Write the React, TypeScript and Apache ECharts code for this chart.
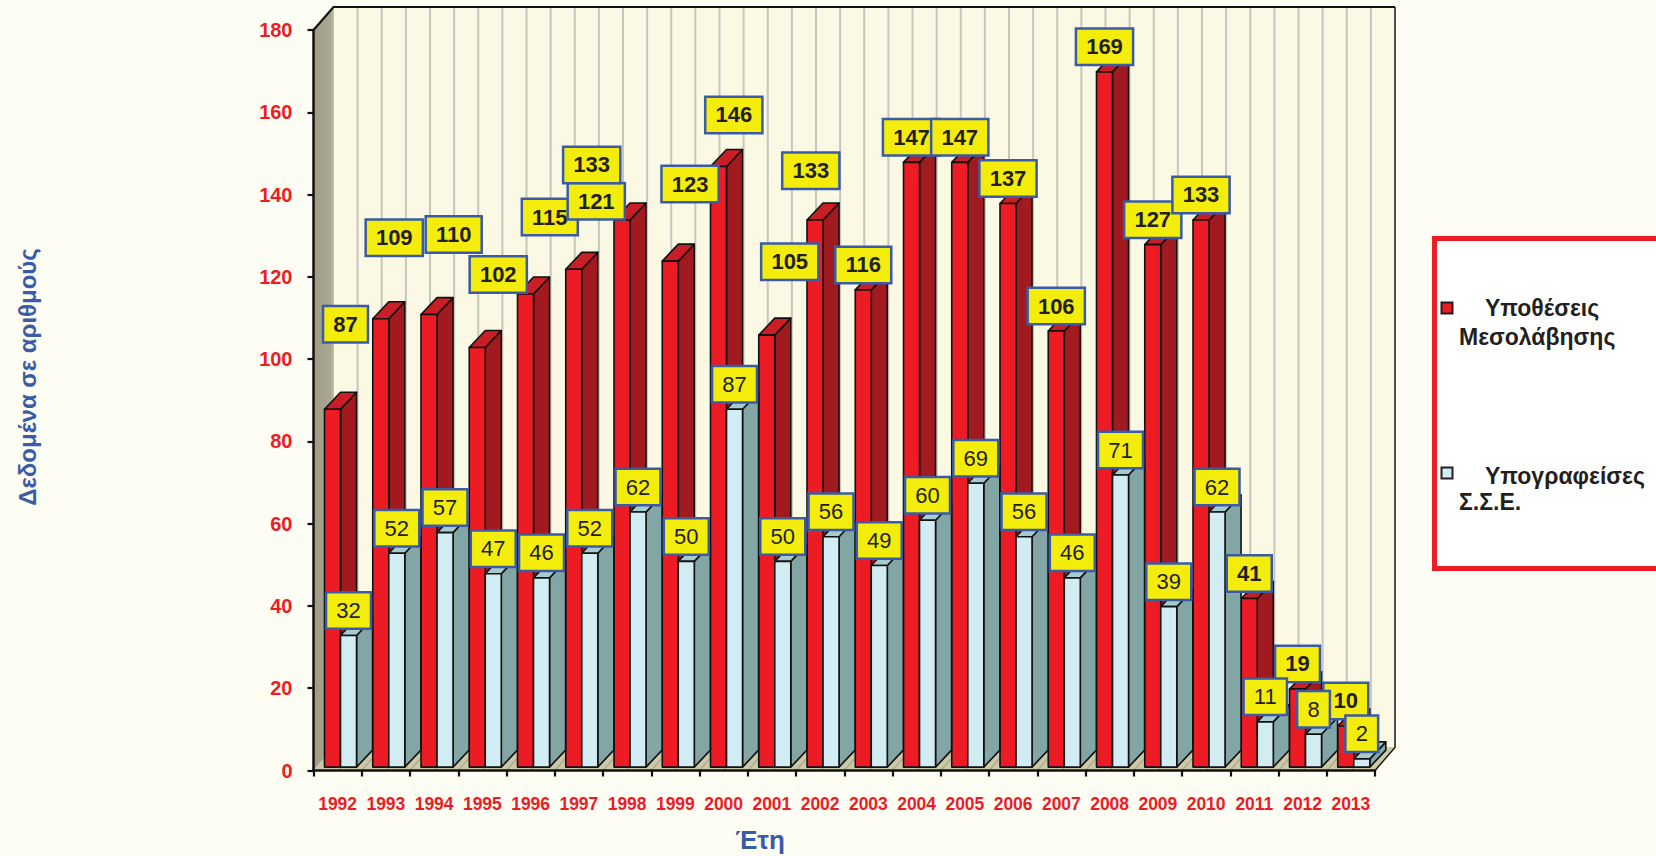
import React, { useEffect, useRef } from "react";
import * as echarts from "echarts";

const years = [
  "1992", "1993", "1994", "1995", "1996", "1997", "1998", "1999", "2000", "2001", "2002",
  "2003", "2004", "2005", "2006", "2007", "2008", "2009", "2010", "2011", "2012", "2013",
];
const mediationCases = [87, 109, 110, 102, 115, 121, 133, 123, 146, 105, 133, 116, 147, 147, 137, 106, 169, 127, 133, 41, 19, 10];
const signedAgreements = [32, 52, 57, 47, 46, 52, 62, 50, 87, 50, 56, 49, 60, 69, 56, 46, 71, 39, 62, 11, 8, 2];
const seriesNames = ["Υποθέσεις Μεσολάβησης", "Υπογραφείσες Σ.Σ.Ε."];
const yAxisTitle = "Δεδομένα σε αριθμούς";
const xAxisTitle = "Έτη";
const yMin = 0;
const yMax = 180;
const yStep = 20;

// manual nudges (px) of the red value boxes, as placed in the original
const redLabelShift: [number, number][] = [
  [13, -60], [13.5, -56], [24.7, -55], [21, -48], [24.3, -52], [22.5, -43], [-30.3, -30],
  [19.8, -52], [15.3, -26.5], [23, -48.5], [-4.2, -24.3], [0, 0], [0, 0], [0, 0], [0, 0],
  [0, 0], [0, 0], [0, 0], [0, 0], [0, 0], [0, 0], [0, 0],
];

const FONT = '"Liberation Sans", Arial, sans-serif';
const RED = { front: "#ed1c24", side: "#a11a20", top: "#c91e25" };
const BLUE = { front: "#d2ecf3", side: "#82a5a6", top: "#a5cbd1" };
const BAR_W = 0.332; // fraction of category
const BAR_DY = -0.352; // depth rise as fraction of category
const BAR_SHIFT_Y = -3.4;
const WALL_DX = 20;
const WALL_DY = -23;

function barItem(offset: number, colors: { front: string; side: string; top: string }) {
  return (params: any, api: any) => {
    const i = api.value(0);
    const v = api.value(1);
    const c = api.coord([i, v]);
    const b = api.coord([i, 0]);
    const bw = api.size([1, 0])[0];
    const start = c[0] - bw / 2;
    const x0 = start + bw * offset;
    const x1 = x0 + bw * BAR_W;
    const dx = bw * BAR_W;
    const dy = bw * BAR_DY;
    const yb = b[1] + BAR_SHIFT_Y;
    const yt = c[1] + BAR_SHIFT_Y;
    const stroke = { stroke: "#111", lineWidth: 1.6, lineJoin: "round" };
    return {
      type: "group",
      children: [
        {
          type: "polygon",
          shape: { points: [[x1, yb], [x1 + dx, yb + dy], [x1 + dx, yt + dy], [x1, yt]] },
          style: { fill: colors.side, ...stroke },
        },
        {
          type: "polygon",
          shape: { points: [[x0, yt], [x1, yt], [x1 + dx, yt + dy], [x0 + dx, yt + dy]] },
          style: { fill: colors.top, ...stroke },
        },
        {
          type: "polygon",
          shape: { points: [[x0, yb], [x1, yb], [x1, yt], [x0, yt]] },
          style: { fill: colors.front, ...stroke },
        },
      ],
    };
  };
}

function labelItem(offset: number, bold: boolean, shifts: [number, number][] | null) {
  return (params: any, api: any) => {
    const i = api.value(0);
    const v = api.value(1);
    const c = api.coord([i, v]);
    const bw = api.size([1, 0])[0];
    const start = c[0] - bw / 2;
    const cx = start + bw * offset + (bw * BAR_W) / 2;
    const yt = c[1] + BAR_SHIFT_Y;
    const s = shifts ? shifts[params.dataIndex] : [0, 0];
    return {
      type: "text",
      x: cx + s[0],
      y: yt - 25 + s[1],
      style: {
        text: String(v),
        align: "center",
        verticalAlign: "middle",
        font: `${bold ? "bold " : ""}22px ${FONT}`,
        lineHeight: 24,
        fill: "#231f20",
        backgroundColor: "#f4ec0b",
        borderColor: "#3a5ba7",
        borderWidth: 2.5,
        padding: [5, 9],
      },
    };
  };
}

function frameItem(params: any, api: any) {
  const p0 = api.coord([0, yMin]);
  const pTop = api.coord([0, yMax]);
  const bw = api.size([1, 0])[0];
  const n = years.length;
  const xL = p0[0] - bw / 2;
  const xR = xL + n * bw;
  const yB = p0[1];
  const yT = pTop[1];
  const children: any[] = [];
  children.push({
    type: "rect",
    shape: { x: xL + WALL_DX, y: yT + WALL_DY, width: xR - xL, height: yB - yT },
    style: { fill: "#fbf9e3", stroke: "#c9c7b8", lineWidth: 1 },
  });
  for (let k = 1; k < n * 2; k++) {
    const gx = xL + WALL_DX + (k * bw) / 2;
    children.push({
      type: "line",
      shape: { x1: gx, y1: yT + WALL_DY, x2: gx, y2: yB + WALL_DY },
      style: { stroke: "#c6c6c0", lineWidth: 2 },
    });
  }
  children.push({
    type: "polygon",
    shape: { points: [[xL, yB], [xL, yT], [xL + WALL_DX, yT + WALL_DY], [xL + WALL_DX, yB + WALL_DY]] },
    style: {
      fill: new echarts.graphic.LinearGradient(0, 0, 1, 0, [
        { offset: 0, color: "#9f9d87" },
        { offset: 0.85, color: "#a9a791" },
        { offset: 1, color: "#bdbba6" },
      ]),
    },
  });
  children.push({
    type: "polygon",
    shape: { points: [[xL, yB], [xR, yB], [xR + WALL_DX, yB + WALL_DY], [xL + WALL_DX, yB + WALL_DY]] },
    style: { fill: "#cdc9a6" },
  });
  for (let k = 1; k < n * 2; k++) {
    const fx = xL + (k * bw) / 2;
    children.push({
      type: "line",
      shape: { x1: fx, y1: yB, x2: fx + WALL_DX, y2: yB + WALL_DY },
      style: { stroke: "#a9a68e", lineWidth: 1.2 },
    });
  }
  children.push({
    type: "polyline",
    shape: { points: [[xL, yT], [xL + WALL_DX, yT + WALL_DY], [xR + WALL_DX, yT + WALL_DY]] },
    style: { stroke: "#111", lineWidth: 2.2, fill: "none" },
  });
  children.push({
    type: "polyline",
    shape: { points: [[xR, yB], [xR + WALL_DX, yB + WALL_DY], [xR + WALL_DX, yT + WALL_DY]] },
    style: { stroke: "#111", lineWidth: 1.4, fill: "none" },
  });
  return { type: "group", children };
}

export default function App() {
  const ref = useRef<HTMLDivElement>(null);
  useEffect(() => {
    document.body.style.margin = "0";
    const chart = echarts.init(ref.current!, undefined, { renderer: "svg" });
    const redData = mediationCases.map((v, i) => [i, v]);
    const blueData = signedAgreements.map((v, i) => [i, v]);
    chart.setOption({
      animation: false,
      backgroundColor: "#fdfdf4",
      textStyle: { fontFamily: FONT },
      grid: { left: 313.5, right: 281, top: 30, bottom: 85.5 },
      xAxis: {
        type: "category",
        data: years,
        z: 10,
        axisLine: { lineStyle: { color: "#111", width: 2.5 } },
        axisTick: { show: true, interval: 0, length: 6, lineStyle: { color: "#111", width: 2.2 } },
        axisLabel: {
          interval: 0,
          color: "#ed1c24",
          fontWeight: "bold",
          fontSize: 17.5,
          margin: 24,
          fontFamily: FONT,
        },
      },
      yAxis: {
        type: "value",
        min: yMin,
        max: yMax,
        interval: yStep,
        z: 10,
        axisLine: { show: true, lineStyle: { color: "#111", width: 2.5 } },
        axisTick: { show: true, length: 6, lineStyle: { color: "#111", width: 2.2 } },
        splitLine: { show: false },
        axisLabel: { color: "#ed1c24", fontWeight: "bold", fontSize: 20, margin: 21, fontFamily: FONT },
      },
      series: [
        { type: "custom", name: "frame", z: 1, silent: true, data: [[0, 0]], renderItem: frameItem },
        { type: "custom", name: seriesNames[0], z: 2, silent: true, data: redData, renderItem: barItem(0.228, RED) },
        { type: "custom", name: seriesNames[1], z: 3, silent: true, data: blueData, renderItem: barItem(0.56, BLUE) },
        { type: "custom", name: "redLabels", z: 4, silent: true, data: redData, renderItem: labelItem(0.228, true, redLabelShift) },
        { type: "custom", name: "blueLabels", z: 5, silent: true, data: blueData, renderItem: labelItem(0.56, false, null) },
      ],
      graphic: [
        {
          type: "text",
          x: 27,
          y: 377,
          rotation: Math.PI / 2,
          style: { text: yAxisTitle, align: "center", verticalAlign: "middle", font: `bold 24px ${FONT}`, fill: "#3a5ba7" },
        },
        {
          type: "text",
          x: 760,
          y: 840,
          style: { text: xAxisTitle, align: "center", verticalAlign: "middle", font: `bold 26px ${FONT}`, fill: "#3a5ba7" },
        },
        {
          type: "group",
          children: [
            {
              type: "rect",
              shape: { x: 1434.5, y: 238.5, width: 260, height: 330 },
              style: { fill: "#ffffff", stroke: "#ed1c24", lineWidth: 5 },
            },
            {
              type: "rect",
              shape: { x: 1441.5, y: 302.5, width: 11, height: 11 },
              style: { fill: RED.front, stroke: "#231f20", lineWidth: 2 },
            },
            {
              type: "text",
              x: 1485,
              y: 308,
              style: { text: "Υποθέσεις", verticalAlign: "middle", font: `bold 23px ${FONT}`, fill: "#231f20" },
            },
            {
              type: "text",
              x: 1459,
              y: 337,
              style: { text: "Μεσολάβησης", verticalAlign: "middle", font: `bold 23px ${FONT}`, fill: "#231f20" },
            },
            {
              type: "rect",
              shape: { x: 1441.5, y: 467.5, width: 11, height: 11 },
              style: { fill: BLUE.front, stroke: "#231f20", lineWidth: 2 },
            },
            {
              type: "text",
              x: 1485,
              y: 476,
              style: { text: "Υπογραφείσες", verticalAlign: "middle", font: `bold 23px ${FONT}`, fill: "#231f20" },
            },
            {
              type: "text",
              x: 1459,
              y: 502,
              style: { text: "Σ.Σ.Ε.", verticalAlign: "middle", font: `bold 23px ${FONT}`, fill: "#231f20" },
            },
          ],
        },
      ],
    });
    return () => chart.dispose();
  }, []);
  return (
    <div
      ref={ref}
      style={{ position: "fixed", left: 0, top: 0, width: 1656, height: 856, background: "#fdfdf4" }}
    />
  );
}
